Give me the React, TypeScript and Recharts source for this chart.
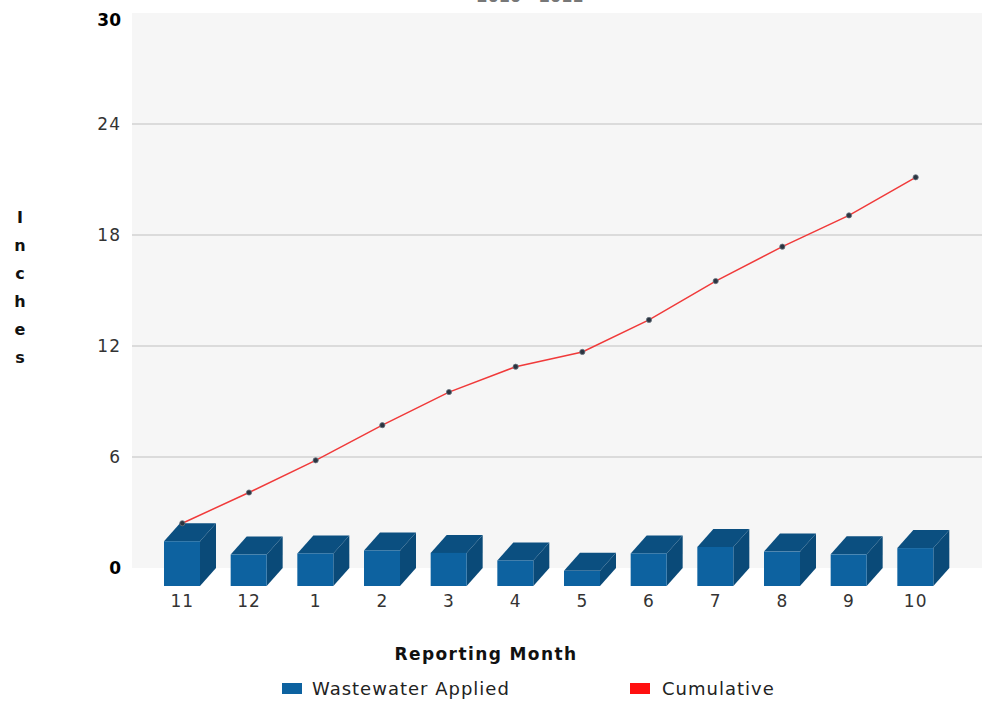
import React from 'react';
import {
  ComposedChart,
  Bar,
  Line,
  XAxis,
  YAxis,
  CartesianGrid,
  ReferenceLine
} from 'recharts';

// reporting months, Nov -> Oct
const months = ['11', '12', '1', '2', '3', '4', '5', '6', '7', '8', '9', '10'];
const wastewaterApplied = [2.42, 1.7, 1.76, 1.92, 1.79, 1.38, 0.82, 1.76, 2.11, 1.86, 1.71, 2.05];
const cumulative = [2.42, 4.08, 5.82, 7.72, 9.51, 10.88, 11.68, 13.41, 15.51, 17.37, 19.06, 21.12];
const yTicks = [0, 6, 12, 18, 24, 30];
const gridValues = [6, 12, 18, 24];
const yAxisLetters = ['I', 'n', 'c', 'h', 'e', 's'];
const seriesNames = ['Wastewater Applied', 'Cumulative'];
const seriesColors = ['#0d62a0', '#ff1010'];

const data = months.map((m, i) => ({
  month: m,
  applied: wastewaterApplied[i],
  cumulative: cumulative[i]
}));

const FONT = '"DejaVu Sans", Verdana, sans-serif';
const DEPTH_X = 16;
const DEPTH_Y = 18;
const legendLeft = [282, 630];

const Bar3D = (props: any) => {
  const { x, y, width, height } = props;
  if (width == null || height == null) return null;
  const fy = y + DEPTH_Y;
  return (
    <g>
      <polygon
        points={`${x + width},${fy} ${x + width + DEPTH_X},${y} ${x + width + DEPTH_X},${y + height} ${x + width},${fy + height}`}
        fill="#0a4a78"
      />
      <polygon
        points={`${x},${fy} ${x + DEPTH_X},${y} ${x + width + DEPTH_X},${y} ${x + width},${fy}`}
        fill="#0b4f80"
      />
      <rect x={x} y={fy} width={width} height={height} fill="#0d62a0" />
    </g>
  );
};

const MonthTick = (props: any) => {
  const { x, y, payload } = props;
  return (
    <text
      x={x}
      y={y + 31}
      textAnchor="middle"
      fontFamily={FONT}
      fontSize={17}
      letterSpacing={1}
      fill="#333"
    >
      {payload.value}
    </text>
  );
};

const ValueTick = (props: any) => {
  const { x, y, payload } = props;
  const edge = payload.value === 0 || payload.value === 30;
  const shift = payload.value === 30 ? 13 : 6;
  return (
    <text
      x={x - 3}
      y={y + shift}
      textAnchor="end"
      fontFamily={FONT}
      fontSize={17}
      letterSpacing={edge ? 0 : 1}
      fontWeight={edge ? 'bold' : 'normal'}
      fill={edge ? '#000' : '#333'}
    >
      {payload.value}
    </text>
  );
};

const Dot = (props: any) => {
  const { cx, cy } = props;
  return <circle cx={cx} cy={cy} r={2.6} fill="#2b3440" stroke="#6b7580" strokeWidth={0.8} />;
};

export default function App() {
  return (
    <div
      style={{
        position: 'absolute',
        left: 0,
        top: 0,
        width: 982,
        height: 701,
        background: '#fff',
        overflow: 'hidden'
      }}
    >
      <ComposedChart
        width={982}
        height={701}
        data={data}
        margin={{ top: 13, right: 0, left: 72, bottom: 103 }}
      >
        <CartesianGrid horizontal={false} vertical={false} fill="#f6f6f6" stroke="none" />
        {gridValues.map((v) => (
          <ReferenceLine key={v} y={v} stroke="#d2d2d2" strokeWidth={1.5} />
        ))}
        <XAxis
          dataKey="month"
          height={30}
          axisLine={false}
          tickLine={false}
          interval={0}
          padding={{ left: 17, right: 33 }}
          tick={<MonthTick />}
        />
        <YAxis
          width={60}
          domain={[0, 30]}
          ticks={yTicks}
          axisLine={false}
          tickLine={false}
          interval={0}
          tick={<ValueTick />}
        />
        <Bar dataKey="applied" name={seriesNames[0]} barSize={36} shape={<Bar3D />} isAnimationActive={false} />
        <Line
          type="linear"
          dataKey="cumulative"
          name={seriesNames[1]}
          stroke="#f03a3a"
          strokeWidth={1.5}
          dot={<Dot />}
          activeDot={false}
          isAnimationActive={false}
        />
        <text x={530} y={2} textAnchor="middle" fontFamily={FONT} fontSize={16} fontWeight="bold" fill="#777">
          2010 - 2011
        </text>
        <text
          x={486}
          y={660}
          textAnchor="middle"
          fontFamily={FONT}
          fontSize={17}
          letterSpacing={1.4}
          fontWeight="bold"
          fill="#111"
        >
          Reporting Month
        </text>
        <text fontFamily={FONT} fontSize={16} fontWeight="bold" fill="#111" textAnchor="middle">
          {yAxisLetters.map((ch, i) => (
            <tspan key={i} x={20} y={223 + i * 28}>
              {ch}
            </tspan>
          ))}
        </text>
      </ComposedChart>
      {seriesNames.map((name, i) => (
        <div
          key={name}
          style={{
            position: 'absolute',
            left: legendLeft[i],
            top: 678,
            display: 'flex',
            alignItems: 'center',
            fontFamily: FONT,
            fontSize: 18,
            letterSpacing: 1,
            color: '#222',
            whiteSpace: 'nowrap'
          }}
        >
          <span
            style={{
              display: 'inline-block',
              width: 20,
              height: 11,
              background: seriesColors[i],
              marginRight: i === 0 ? 10 : 12
            }}
          />
          <span>{name}</span>
        </div>
      ))}
    </div>
  );
}
